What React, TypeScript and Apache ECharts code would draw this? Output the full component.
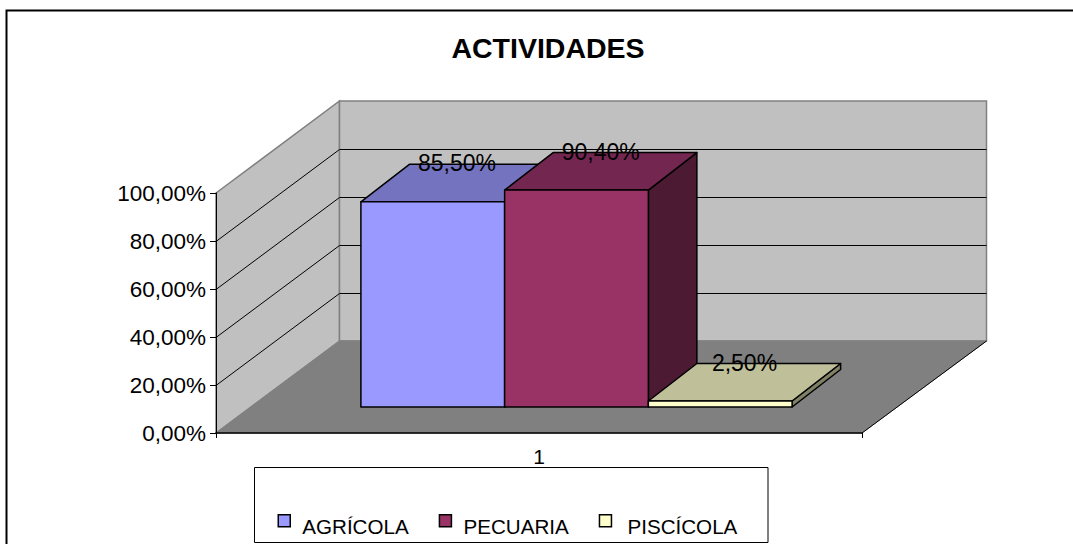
import React, { useEffect, useRef } from "react";
import * as echarts from "echarts";

const categories = ["1"];
const seriesNames = ["AGRÍCOLA", "PECUARIA", "PISCÍCOLA"];
const seriesValues = [85.5, 90.4, 2.5];
const frontColors = ["#9999FF", "#993366", "#FFFFCC"];
const topColors = ["#7373BF", "#732650", "#BFBF99"];
const sideColors = ["#4D4D80", "#4D1A33", "#808066"];
const axisTicks = [0, 20, 40, 60, 80, 100];
const legendTextPadding = [
  [0, 4, 0, 7],
  [0, 0, 0, 7],
  [0, 0, 0, 11],
];
const titleText = "ACTIVIDADES";

const fmt = (v: number) => v.toFixed(2).replace(".", ",") + "%";
const FONT = "Liberation Sans, Arial, sans-serif";
const WALL = [123.5, -92];
const BAR_SHIFT = [37.5, -26];
const BAR_DEPTH = [48.5, -37.5];
const BAR_RATIO = 0.2225;

function barGeom(api: any, i: number, v: number) {
  const base = api.coord([0, 0]);
  const top = api.coord([0, v]);
  const w = api.size([1, 0])[0] * BAR_RATIO;
  const x0 = base[0] + BAR_SHIFT[0] + (i - 1.5) * w;
  return { x0, x1: x0 + w, yb: base[1] + BAR_SHIFT[1], yt: top[1] + BAR_SHIFT[1] };
}

function App() {
  const ref = useRef<HTMLDivElement>(null);
  useEffect(() => {
    const chart = echarts.init(ref.current!, undefined, { renderer: "svg" });
    const wallSeries = {
      type: "custom",
      name: "walls",
      silent: true,
      z: 1,
      encode: { x: 0, y: 1 },
      data: [[0, 0]],
      renderItem: (_p: any, api: any) => {
        const p0 = api.coord([0, 0]);
        const w = api.size([1, 0])[0];
        const xl = p0[0] - w / 2;
        const xr = p0[0] + w / 2;
        const yb = p0[1];
        const yt = api.coord([0, 100])[1];
        const [dx, dy] = WALL;
        const xbr = xr + dx + 1;
        const children: any[] = [
          { type: "polygon", shape: { points: [[xl, yt], [xl + dx, yt + dy], [xl + dx, yb + dy], [xl, yb]] }, style: { fill: "#C0C0C0", stroke: "#808080", lineWidth: 1.5 } },
          { type: "polygon", shape: { points: [[xl + dx, yt + dy], [xbr, yt + dy], [xbr, yb + dy], [xl + dx, yb + dy]] }, style: { fill: "#C0C0C0", stroke: "#808080", lineWidth: 1.5 } },
          { type: "polygon", shape: { points: [[xl, yb], [xr, yb], [xbr, yb + dy], [xl + dx, yb + dy]] }, style: { fill: "#808080", stroke: "#808080", lineWidth: 1 } },
          { type: "line", shape: { x1: xr, y1: yb, x2: xbr, y2: yb + dy }, style: { stroke: "#000", lineWidth: 1 } },
        ];
        axisTicks.slice(1, -1).forEach((t) => {
          const y = api.coord([0, t])[1] + 0.5;
          children.push({ type: "polyline", shape: { points: [[xl, y], [xl + dx, y + dy], [xbr, y + dy]] }, style: { fill: "none", stroke: "#000", lineWidth: 1 } });
        });
        return { type: "group", children };
      },
    };
    const barSeries = seriesNames.map((name, i) => ({
      type: "custom",
      name,
      silent: true,
      z: 2 + i,
      encode: { x: 0, y: 1 },
      itemStyle: { color: frontColors[i] },
      data: [[0, seriesValues[i]]],
      renderItem: (_p: any, api: any) => {
        const g = barGeom(api, i, api.value(1));
        const [dx, dy] = BAR_DEPTH;
        const s = { stroke: "#000", lineWidth: 1.5, lineJoin: "round" };
        return {
          type: "group",
          children: [
            { type: "polygon", shape: { points: [[g.x1, g.yt], [g.x1 + dx, g.yt + dy], [g.x1 + dx, g.yb + dy], [g.x1, g.yb]] }, style: { ...s, fill: sideColors[i] } },
            { type: "polygon", shape: { points: [[g.x0, g.yt], [g.x0 + dx, g.yt + dy], [g.x1 + dx, g.yt + dy], [g.x1, g.yt]] }, style: { ...s, fill: topColors[i] } },
            { type: "polygon", shape: { points: [[g.x0, g.yt], [g.x1, g.yt], [g.x1, g.yb], [g.x0, g.yb]] }, style: { ...s, fill: frontColors[i] } },
          ],
        };
      },
    }));
    const labelSeries = {
      type: "custom",
      name: "labels",
      silent: true,
      z: 10,
      encode: { x: 0, y: 1 },
      data: seriesValues.map((v) => [0, v]),
      renderItem: (p: any, api: any) => {
        const i = p.dataIndex;
        const g = barGeom(api, i, api.value(1));
        return {
          type: "text",
          style: {
            text: fmt(api.value(1)),
            x: (g.x0 + g.x1) / 2 + BAR_DEPTH[0] / 2,
            y: g.yt + BAR_DEPTH[1] - 1,
            align: "center",
            verticalAlign: "middle",
            fill: "#000",
            font: `23px ${FONT}`,
          },
        };
      },
    };
    chart.setOption({
      animation: false,
      backgroundColor: "#fff",
      title: {
        text: titleText,
        left: 543,
        top: 28,
        textAlign: "center",
        textStyle: { fontFamily: FONT, fontWeight: "bold", fontSize: 28.5, color: "#000" },
      },
      grid: { left: 216, top: 193, width: 646, height: 240 },
      xAxis: {
        type: "category",
        data: categories,
        z: 6,
        axisLine: { lineStyle: { color: "#000", width: 1.5 } },
        axisTick: { show: true, length: 5, lineStyle: { color: "#000" } },
        axisLabel: { color: "#000", fontFamily: FONT, fontSize: 21, margin: 13 },
      },
      yAxis: {
        type: "value",
        min: 0,
        max: 100,
        interval: 20,
        z: 6,
        splitLine: { show: false },
        axisLine: { show: true, lineStyle: { color: "#000", width: 1 } },
        axisTick: { show: true, length: 6, lineStyle: { color: "#000" } },
        axisLabel: { color: "#000", fontFamily: FONT, fontSize: 22.5, margin: 10, formatter: (v: number) => fmt(v) },
      },
      legend: {
        left: 254.5,
        top: 467,
        orient: "horizontal",
        data: seriesNames.map((name, i) => ({
          name,
          icon: "rect",
          itemStyle: { color: frontColors[i], borderColor: "#000", borderWidth: 1.5 },
          textStyle: { padding: legendTextPadding[i] },
        })),
        itemWidth: 12,
        itemHeight: 12,
        itemGap: 30,
        padding: [47, 30, 0, 23],
        selectedMode: false,
        formatter: (name: string) => `{t|${name}}`,
        textStyle: {
          color: "#000",
          fontFamily: FONT,
          fontSize: 20.6,
          rich: { t: { color: "#000", fontFamily: FONT, fontSize: 20.6, padding: [11, 0, 0, 0] } },
        },
      },
      graphic: [
        { type: "polyline", silent: true, shape: { points: [[6.5, 544], [6.5, 10.5], [1073, 10.5]] }, style: { fill: "none", stroke: "#000", lineWidth: 2 } },
        { type: "rect", silent: true, shape: { x: 254.5, y: 467.5, width: 513.5, height: 75 }, style: { fill: "none", stroke: "#000", lineWidth: 1 } },
      ],
      series: [wallSeries, ...barSeries, labelSeries],
    });
    return () => chart.dispose();
  }, []);
  return <div ref={ref} style={{ position: "absolute", left: 0, top: 0, width: 1073, height: 544 }} />;
}

export default App;
